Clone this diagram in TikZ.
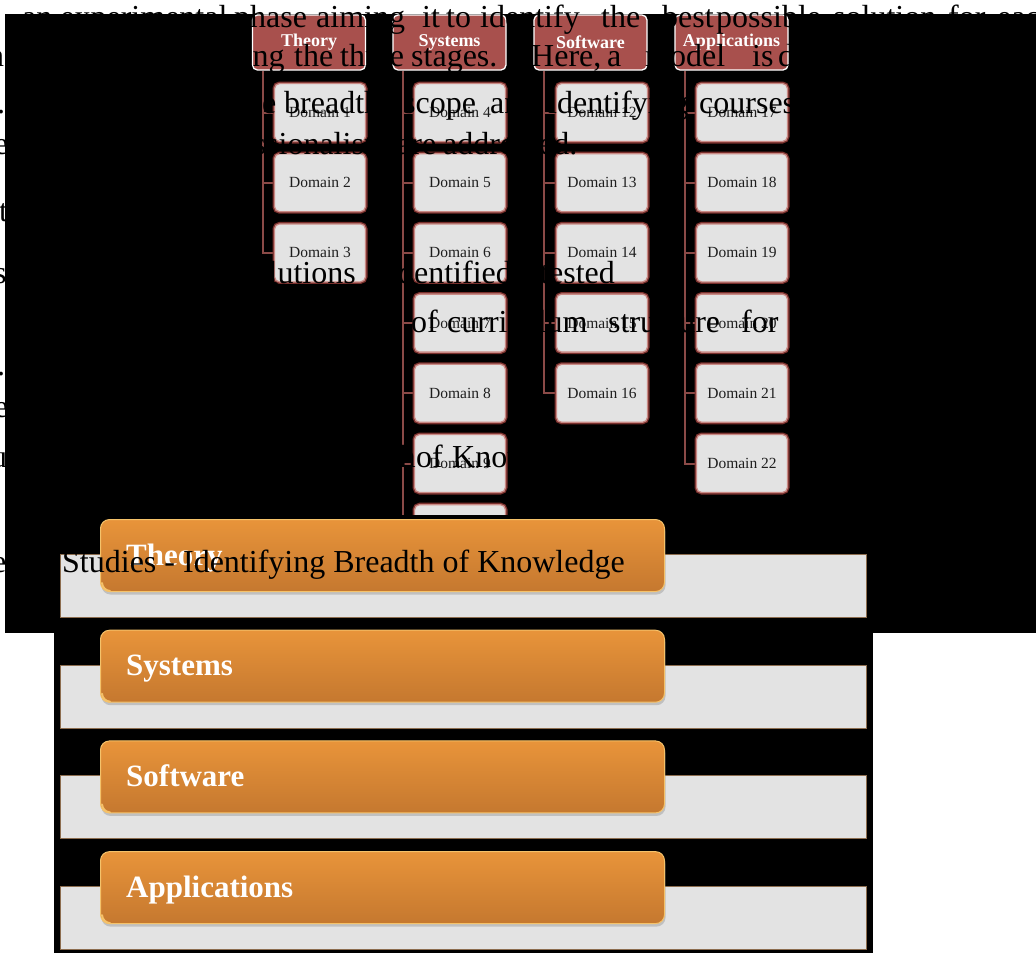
\documentclass[tikz,border=0pt]{standalone}
\usepackage{fontspec}
\setmainfont{Liberation Serif}
\usetikzlibrary{shadows}
\definecolor{hdr}{HTML}{A8504D}
\definecolor{boxfill}{HTML}{E3E3E3}
\definecolor{rim}{HTML}{C98A85}
\definecolor{glow}{HTML}{7A302D}
\definecolor{linkc}{HTML}{8B4A47}
\definecolor{dtext}{HTML}{1E1E1E}
\definecolor{barA}{HTML}{E8943A}
\definecolor{barB}{HTML}{C5782F}
\definecolor{barhi}{HTML}{F5C26A}
\definecolor{trackc}{HTML}{E3E3E3}
\definecolor{trackedge}{HTML}{8C6D4F}
\pgfdeclarelayer{back}
\pgfdeclarelayer{links}
\pgfdeclarelayer{front}
\pgfsetlayers{back,links,main,front}
\begin{document}
\begin{tikzpicture}[x=1pt, y=-1pt,
  hdrbox/.style={draw=white, line width=1.3pt, fill=hdr, rounded corners=5pt,
    minimum width=113pt, minimum height=55pt, inner sep=0pt, text=white,
    font=\bfseries\fontsize{18}{20}\selectfont},
  dombox/.style={preaction={draw=glow, line width=4pt}, draw=rim, line width=1.3pt,
    fill=boxfill, rounded corners=5pt, minimum width=91pt, minimum height=58pt,
    inner sep=0pt, text=dtext, font=\fontsize{15.5}{17}\selectfont},
  link/.style={draw=linkc, line width=2pt},
  track/.style={fill=trackc, draw=trackedge, line width=0.8pt, minimum width=806pt,
    minimum height=63pt, inner sep=0pt, anchor=north west},
  bar/.style={top color=barA, bottom color=barB, draw=barhi, line width=1pt,
    rounded corners=9pt, minimum width=564pt, minimum height=72pt, inner sep=0pt,
    anchor=north west, drop shadow={shadow xshift=1pt, shadow yshift=-3pt, opacity=.35}},
  barlabel/.style={anchor=base west, inner sep=0pt, text=white,
    font=\bfseries\fontsize{31}{35}\selectfont},
  page/.style={anchor=base west, inner sep=0pt, text=black,
    font=\fontsize{32}{38}\selectfont}]

\useasboundingbox (0,0) rectangle (1036,954);

\begin{pgfonlayer}{back}
  \fill[white] (0,0) rectangle (1036,954);
  % dark panel of the domain tree
  \fill[black] (5,14) rectangle (1036,633);
\end{pgfonlayer}

% column headers
\node[hdrbox] (hT) at (309,42.5) {Theory};
\node[hdrbox] (hS) at (449.5,42.5) {Systems};
\node[hdrbox] (hW) at (590.5,42.5) {Software};
\node[hdrbox] (hA) at (731.5,42.5) {Applications};

% domain boxes: number / column centre / row
\foreach \n/\cx/\r in {1/320/0, 2/320/1, 3/320/2,
    4/460/0, 5/460/1, 6/460/2, 7/460/3, 8/460/4, 9/460/5,
    12/602/0, 13/602/1, 14/602/2, 15/602/3, 16/602/4,
    17/742/0, 18/742/1, 19/742/2, 20/742/3, 21/742/4, 22/742/5}
  \node[dombox] (d\n) at (\cx,{112.5+70.2*\r}) {Domain \n};
\node[dombox] (d10) at (460,{112.5+70.2*6}) {};

% tree connectors
\begin{pgfonlayer}{links}
  \foreach \n in {1,2,3}
    \draw[link] ([xshift=11pt]hT.south west) |- (d\n.west);
  \foreach \n in {4,...,10}
    \draw[link] ([xshift=11pt]hS.south west) |- (d\n.west);
  \foreach \n in {12,...,16}
    \draw[link] ([xshift=11pt]hW.south west) |- (d\n.west);
  \foreach \n in {17,...,22}
    \draw[link] ([xshift=11pt]hA.south west) |- (d\n.west);
\end{pgfonlayer}

\begin{pgfonlayer}{front}
  % stacked bar panel
  \fill[black] (54,515) rectangle (873,953);
  \foreach \k in {0,...,3} {
    \node[track] (tr\k) at (60,{554+110.7*\k}) {};
    \node[bar] (bar\k) at (100,{519+110.7*\k}) {};
    \draw[barhi, line width=2pt, line cap=round]
      ([xshift=2pt,yshift=9pt]bar\k.south west) to[bend right=40]
      ([xshift=10pt,yshift=1pt]bar\k.south west);
  }
  \node[barlabel] (lb0) at (126,565) {Theory};
  \node[barlabel] (lb1) at (126,675.7) {Systems};
  \node[barlabel] (lb2) at (126,786.4) {Software};
  \node[barlabel] (lb3) at (126,897.1) {Applications};

  % running text of the page
  \node[page] (a1) at (22,27) {an experimental};
  \node[page] (a2) at (234,27) {phase};
  \node[page] (a3) at (316,27) {aiming};
  \node[page] (a4) at (422,27) {it};
  \node[page] (a5) at (446,27) {to};
  \node[page] (a6) at (480,27) {identify};
  \node[page] (a7) at (601,27) {the};
  \node[page] (a8) at (662,27) {best};
  \node[page] (a9) at (716,27) {possible};
  \node[page] (a10) at (833,27) {solution};
  \node[page] (a11) at (948,27) {for};
  \node[page] (a12) at (997,27) {each};

  \node[page] (b0) at (-12,66) {n};
  \node[page] (b1) at (215,66) {using};
  \node[page] (b2) at (294,66) {the};
  \node[page] (b3) at (340,66) {three};
  \node[page] (b4) at (411,66) {stages.};
  \node[page] (b5) at (531,66) {Here,};
  \node[page] (b6) at (607,66) {a};
  \node[page] (b7) at (645,66) {model};
  \node[page] (b8) at (752,66) {is};
  \node[page] (b9) at (778,66) {developed};

  \node[page] (c0) at (-3,113) {.};
  \node[page] (c1) at (237,113) {the};
  \node[page] (c2) at (284,113) {breadth};
  \node[page] (c3) at (403,113) {scope};
  \node[page] (c4) at (490,113) {and};
  \node[page] (c5) at (548,113) {identifying};
  \node[page] (c6) at (699,113) {courses};

  \node[page] (e0) at (-6,154) {e};
  \node[page] (e1) at (186,154) {professionalism};
  \node[page] (e2) at (397,154) {are};
  \node[page] (e3) at (443,154) {addressed.};

  \node[page] (f0) at (-1,221) {t};

  \node[page] (g0) at (-6,283) {s};
  \node[page] (g1) at (240,283) {solutions};
  \node[page] (g2) at (389,283) {identified};
  \node[page] (g3) at (540,283) {tested};

  \node[page] (h1) at (411,332) {of};
  \node[page] (h2) at (447,332) {curriculum};
  \node[page] (h3) at (608,332) {structure};
  \node[page] (h4) at (741,332) {for};

  \node[page] (i0) at (-3,375) {.};
  \node[page] (j0) at (-6,417) {e};

  \node[page] (k0) at (-9,467) {u};
  \node[page] (k1) at (314,467) {Breadth};
  \node[page] (k2) at (416,467) {of};
  \node[page] (k3) at (452,467) {Knowledge};

  \node[page] (m0) at (-8,572) {e};
  \node[page] (m1) at (62,572) {Studies - Identifying Breadth of Knowledge};
\end{pgfonlayer}
\end{tikzpicture}
\end{document}
